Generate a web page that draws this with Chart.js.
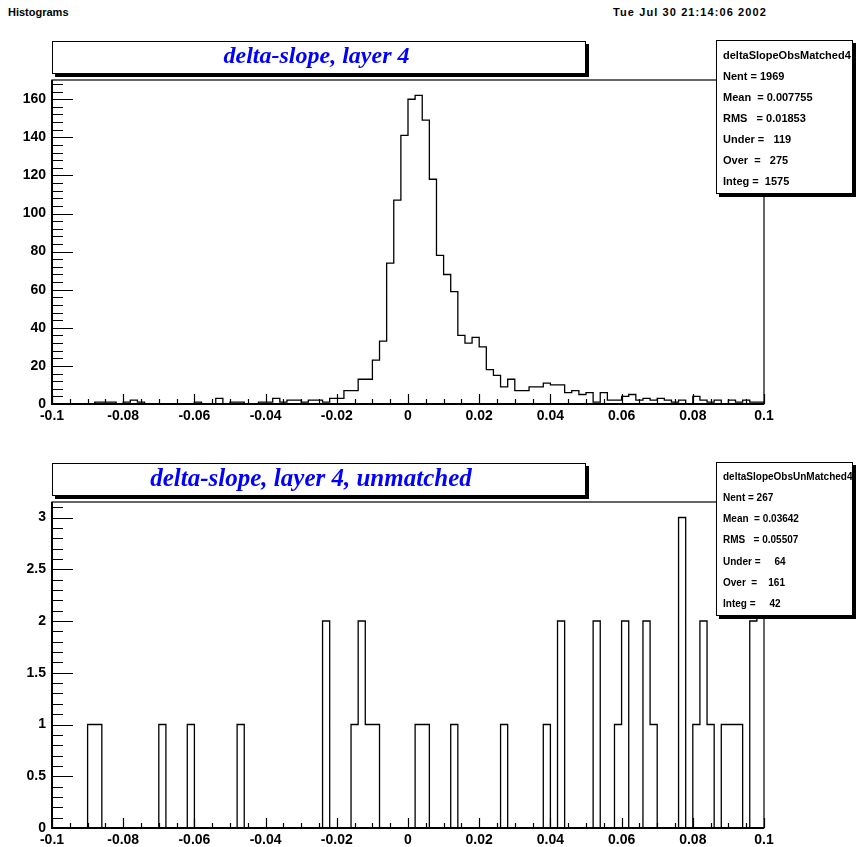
<!DOCTYPE html>
<html>
<head>
<meta charset="utf-8">
<script src="https://cdn.jsdelivr.net/npm/chart.js@4/dist/chart.umd.min.js"></script>
<style>
  * { box-sizing: border-box; }
  body { margin: 0; background: #fff; width: 862px; height: 847px; position: relative; overflow: hidden;
         font-family: "Liberation Sans", Arial, sans-serif; }
  canvas { position: absolute; left: 0; }
  #top { top: 0; }
  #bottom { top: 424px; }
  .hdr { position: absolute; top: 6px; font-weight: bold; font-size: 11px; white-space: nowrap; }
  .title { position: absolute; left: 52px; width: 534px; height: 33px; border: 1px solid #000; background: #fff;
           box-shadow: 3px 3px 0 #000; text-align: center; color: #0000ff; line-height: 31px;
           font: italic bold 24px "Liberation Serif", "Times New Roman", serif; }
  .stats { position: absolute; left: 716px; width: 137px; height: 154px; border: 1px solid #000; background: #fff;
           box-shadow: 3px 3px 0 #000; font-weight: bold; overflow: hidden; display: flex; flex-direction: column;
           padding: 3px 0 1px 0; }
  .stats div { flex: 1; display: flex; align-items: center; padding-left: 6px; white-space: pre; }
</style>
</head>
<body>
<div class="hdr" style="left:8px">Histograms</div>
<div class="hdr" style="right:95px;letter-spacing:1.1px">Tue Jul 30 21:14:06 2002</div>

<canvas id="top" width="862" height="424"></canvas>
<canvas id="bottom" width="862" height="423"></canvas>

<div class="title" style="top:41px;padding-right:5px">delta-slope, layer 4</div>
<div class="title" style="top:463px;padding-right:16px;font-size:25px">delta-slope, layer 4, unmatched</div>

<div class="stats" style="top:40px;font-size:11px">
  <div>deltaSlopeObsMatched4</div>
  <div>Nent = 1969</div>
  <div>Mean  = 0.007755</div>
  <div>RMS   = 0.01853</div>
  <div>Under =   119</div>
  <div>Over  =   275</div>
  <div>Integ =  1575</div>
</div>
<div class="stats" style="top:462px;font-size:10px">
  <div>deltaSlopeObsUnMatched4</div>
  <div>Nent = 267</div>
  <div>Mean  = 0.03642</div>
  <div>RMS   = 0.05507</div>
  <div>Under =     64</div>
  <div>Over  =    161</div>
  <div>Integ =     42</div>
</div>

<script>
// 100 bins from -0.1 to 0.1
const xMin = -0.1, xMax = 0.1, nBins = 100;

const matchedCounts = [
  0, 0, 0, 0, 0, 0, 1, 1, 1, 0,
  1, 2, 1, 0, 0, 0, 0, 0, 0, 0,
  1, 0, 0, 3, 0, 1, 1, 0, 0, 1,
  1, 3, 1, 2, 2, 1, 2, 2, 1, 3,
  3, 7, 7, 13, 13, 23, 33, 74, 107, 141,
  160, 162, 149, 118, 78, 68, 59, 36, 32, 35,
  30, 18, 15, 9, 13, 7, 7, 9, 9, 11,
  10, 10, 6, 7, 5, 6, 1, 6, 2, 2,
  4, 5, 2, 3, 2, 3, 2, 1, 2, 0,
  4, 2, 1, 2, 0, 2, 1, 2, 1, 1
];

const unmatchedCounts = [
  0, 0, 0, 0, 0, 1, 1, 0, 0, 0,
  0, 0, 0, 0, 0, 1, 0, 0, 0, 1,
  0, 0, 0, 0, 0, 0, 1, 0, 0, 0,
  0, 0, 0, 0, 0, 0, 0, 0, 2, 0,
  0, 0, 1, 2, 1, 1, 0, 0, 0, 0,
  0, 1, 1, 0, 0, 0, 1, 0, 0, 0,
  0, 0, 0, 1, 0, 0, 0, 0, 0, 1,
  0, 2, 0, 0, 0, 0, 2, 0, 0, 1,
  2, 0, 0, 2, 1, 0, 0, 0, 3, 0,
  1, 2, 1, 0, 1, 1, 1, 0, 2, 3
];

const xTicks = [-0.1, -0.08, -0.06, -0.04, -0.02, 0, 0.02, 0.04, 0.06, 0.08, 0.1];
const xTickLabels = ['-0.1', '-0.08', '-0.06', '-0.04', '-0.02', '0', '0.02', '0.04', '0.06', '0.08', '0.1'];

const topYTicks = [0, 20, 40, 60, 80, 100, 120, 140, 160];
const topYLabels = ['0', '20', '40', '60', '80', '100', '120', '140', '160'];
const bottomYTicks = [0, 0.5, 1, 1.5, 2, 2.5, 3];
const bottomYLabels = ['0', '0.5', '1', '1.5', '2', '2.5', '3'];

function stepPoints(counts) {
  const w = (xMax - xMin) / nBins;
  const pts = counts.map((c, i) => ({ x: xMin + i * w, y: c }));
  pts.push({ x: xMax, y: counts[counts.length - 1] });
  return pts;
}

// ROOT-like frame with inward ticks
const rootFrame = {
  id: 'rootFrame',
  afterDraw(chart, args, opts) {
    const { ctx, chartArea: a, scales: { x, y } } = chart;
    ctx.save();
    ctx.strokeStyle = '#000';
    ctx.lineWidth = 1.2;
    ctx.strokeRect(a.left, a.top, a.right - a.left, a.bottom - a.top);
    ctx.lineWidth = 2;
    ctx.beginPath();
    ctx.moveTo(a.left, a.top);
    ctx.lineTo(a.left, a.bottom);
    ctx.lineTo(a.right, a.bottom);
    ctx.stroke();

    ctx.lineWidth = 1.2;
    ctx.beginPath();
    // x ticks: 4 subdivisions per 0.02
    const xs = 0.005;
    for (let k = 0; k <= 40; k++) {
      const px = Math.round(x.getPixelForValue(xMin + k * xs)) + 0.5;
      const len = k % 4 === 0 ? 10 : 5;
      ctx.moveTo(px, a.bottom);
      ctx.lineTo(px, a.bottom - len);
    }
    // y ticks: 5 subdivisions per major step
    const ys = opts.yStep / 5;
    for (let k = 0; k * ys <= y.max + 1e-9; k++) {
      const py = Math.round(y.getPixelForValue(k * ys)) + 0.5;
      const len = k % 5 === 0 ? 21 : 11;
      ctx.moveTo(a.left, py);
      ctx.lineTo(a.left + len, py);
    }
    ctx.stroke();
    ctx.restore();
  }
};

function makeHist(id, counts, yMax, yTicks, yLabels, yStep, padTop, xAxisH) {
  const font = { family: 'Liberation Sans', weight: 'bold', size: 14 };
  return new Chart(document.getElementById(id), {
    type: 'line',
    data: {
      datasets: [{
        data: stepPoints(counts),
        stepped: true,
        borderColor: '#000',
        borderWidth: 1.3,
        pointRadius: 0,
        fill: false
      }]
    },
    options: {
      responsive: false,
      animation: false,
      devicePixelRatio: 1,
      layout: { padding: { top: padTop, right: 98, left: 0, bottom: 0 } },
      plugins: { legend: { display: false }, tooltip: { enabled: false }, rootFrame: { yStep } },
      scales: {
        x: {
          type: 'linear', min: xMin, max: xMax,
          grid: { display: false, drawTicks: false },
          border: { display: false },
          afterBuildTicks: s => { s.ticks = xTicks.map(v => ({ value: v })); },
          afterFit: s => { s.height = xAxisH; },
          ticks: { color: '#000', font, padding: 4, autoSkip: false, maxRotation: 0, minRotation: 0,
                   callback: (v, i) => xTickLabels[i] }
        },
        y: {
          type: 'linear', min: 0, max: yMax,
          grid: { display: false, drawTicks: false },
          border: { display: false },
          afterBuildTicks: s => { s.ticks = yTicks.map(v => ({ value: v })); },
          afterFit: s => { s.width = 52; },
          ticks: { color: '#000', font, padding: 6, callback: (v, i) => yLabels[i] }
        }
      }
    },
    plugins: [rootFrame]
  });
}

makeHist('top', matchedCounts, 170.1, topYTicks, topYLabels, 20, 80, 20);
makeHist('bottom', unmatchedCounts, 3.15, bottomYTicks, bottomYLabels, 0.5, 78, 19);
</script>
</body>
</html>
